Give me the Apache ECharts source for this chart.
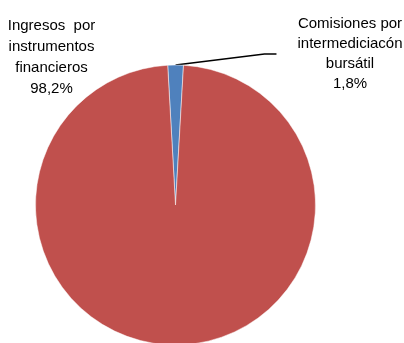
<!DOCTYPE html>
<html><head><meta charset="utf-8">
<script src="https://cdn.jsdelivr.net/npm/echarts@6/dist/echarts.min.js"></script>
<style>html,body{margin:0;padding:0;background:#fff}#c{width:404px;height:343px}</style>
</head><body><div id="c"></div>
<script>
var categories = ['Comisiones por\nintermediciacón\nbursátil', 'Ingresos  por\ninstrumentos\nfinancieros'];
var values = [1.8, 98.2];
var valueLabels = ['1,8%', '98,2%'];
var colors = ['#4F81BD', '#C0504D'];
var FONT = '"Liberation Sans", Arial, sans-serif';
var chart = echarts.init(document.getElementById('c'), null, {renderer: 'canvas'});
chart.setOption({
  animation: false,
  series: [{
    type: 'pie',
    center: [175.5, 205],
    radius: [0, 140],
    startAngle: 93.2,
    clockwise: true,
    itemStyle: {borderColor: '#fff', borderWidth: 0.5},
    label: {
      show: true,
      color: '#000',
      fontFamily: FONT,
      fontSize: 15,
      lineHeight: 20,
      align: 'center',
      formatter: function (p) { return categories[p.dataIndex] + '\n' + valueLabels[p.dataIndex]; }
    },
    labelLine: {show: true, lineStyle: {color: '#000', width: 1.6}, length: 10, length2: 12},
    labelLayout: function (p) {
      if (p.dataIndex === 0) return {x: 339.5, y: 54, align: 'center', verticalAlign: 'middle'};
      return {x: 51.5, y: 57, align: 'center', verticalAlign: 'middle'};
    },
    data: values.map(function (v, i) {
      return {
        name: categories[i], value: v,
        itemStyle: {color: colors[i]},
        labelLine: {show: i === 0},
        label: i === 1 ? {lineHeight: 21} : {padding: [0, 0, 6, 21]}
      };
    })
  }]
});
</script></body></html>
